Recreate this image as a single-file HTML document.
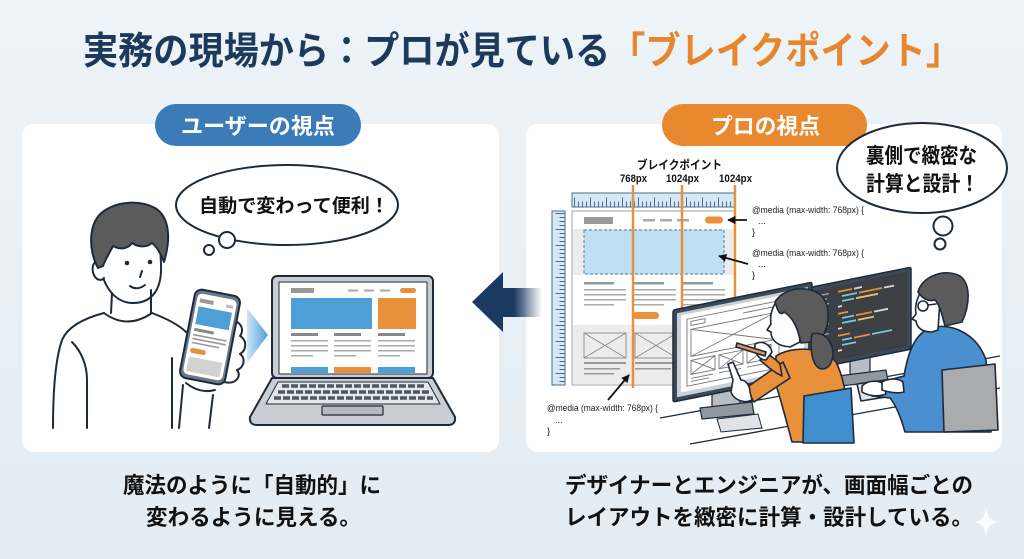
<!DOCTYPE html>
<html><head><meta charset="utf-8">
<style>
html,body{margin:0;padding:0;width:1024px;height:559px;overflow:hidden;background:#e8f0f6;}
svg{display:block;}
text{font-family:"Liberation Sans","Noto Sans CJK JP",sans-serif;}
</style></head>
<body>
<svg width="1024" height="559" viewBox="0 0 1024 559" xmlns="http://www.w3.org/2000/svg">
<defs>
 <linearGradient id="bg" x1="0" y1="0" x2="0" y2="1"><stop offset="0" stop-color="#edf4f9"/><stop offset="1" stop-color="#e3ecf3"/></linearGradient>
 <linearGradient id="arr" x1="0" x2="1"><stop offset="0" stop-color="#1b3a62"/><stop offset="0.3" stop-color="#1b3a62"/><stop offset="1" stop-color="#1b3a62" stop-opacity="0"/></linearGradient>
 <linearGradient id="chev" x1="0" x2="1"><stop offset="0" stop-color="#cfe6f6"/><stop offset="1" stop-color="#4a9fd8"/></linearGradient>
 <marker id="ah" viewBox="0 0 10 10" refX="9" refY="5" markerWidth="4.5" markerHeight="4.5" orient="auto"><path d="M0,0 L10,5 L0,10 z" fill="#111"/></marker>
</defs>
<rect width="1024" height="559" fill="url(#bg)"/>

<!-- Title -->
<text x="83" y="64" font-size="38" font-weight="700" fill="#1d3a5c" textLength="878" lengthAdjust="spacingAndGlyphs">実務の現場から：プロが見ている<tspan fill="#e8862e">「ブレイクポイント」</tspan></text>

<!-- Panels -->
<rect x="22" y="124" width="477" height="328" rx="12" fill="#ffffff"/>
<rect x="526" y="124" width="476" height="328" rx="12" fill="#ffffff"/>

<!-- Pills -->
<rect x="155" y="104" width="206" height="42" rx="21" fill="#3a7bb8"/>
<text x="181" y="134" font-size="22" font-weight="700" fill="#fff" textLength="154" lengthAdjust="spacingAndGlyphs">ユーザーの視点</text>
<rect x="662" y="104" width="205" height="42" rx="21" fill="#e8892f"/>
<text x="711" y="134" font-size="22" font-weight="700" fill="#fff" textLength="109" lengthAdjust="spacingAndGlyphs">プロの視点</text>

<!-- ===== LEFT ILLUSTRATION ===== -->
<g stroke="#1e2a3a" stroke-width="2" stroke-linejoin="round" stroke-linecap="round">
 <ellipse cx="287" cy="205" rx="111" ry="40" fill="#fff"/>
 <circle cx="227" cy="240" r="8" fill="#fff"/>
 <circle cx="209" cy="250" r="5" fill="#fff"/>
</g>
<text x="199" y="212" font-size="19" font-weight="700" fill="#111" textLength="190" lengthAdjust="spacingAndGlyphs">自動で変わって便利！</text>

<!-- person -->
<g stroke="#1e2a3a" stroke-width="2" stroke-linejoin="round" stroke-linecap="round" fill="none">
 <path d="M100,250 C98,280 112,303 133,303 C153,303 162,288 161,265 L160,240 C140,236 115,238 100,250 Z" fill="#fff"/>
 <path d="M101,262 C92,258 90,272 96,278 C99,281 103,280 104,278" fill="#fff"/>
 <path d="M98,268 C88,250 88,222 104,211 C118,201 140,200 155,208 C168,216 172,235 164,262 C160,252 156,246 152,243 C146,248 138,247 132,243 C128,249 120,250 113,246 C110,252 106,258 103,266 Z" fill="#5b5b5b"/>
 <path d="M130,286 Q137,291 145,285"/>
 <path d="M142,271 L140,277"/>
 <path d="M112,293 L111,313"/><path d="M151,290 L151,313"/>
 <path d="M104,313 Q127,330 152,313"/>
 <path d="M104,313 C85,318 68,326 62,340 C55,360 53,395 53,428"/>
 <path d="M152,313 C165,318 178,324 186,332"/>
 <path d="M72,342 C82,352 87,366 87,380 L87,428"/>
 <path d="M172,358 L172,428"/>
 <path d="M183,385 L179,428"/><path d="M213,395 L209,428"/>
 <path d="M186,383 Q200,394 215,390"/>
 <path d="M228,322 C238,318 246,328 240,336 C247,340 247,350 240,354 C246,358 244,368 237,370 C242,376 236,385 224,382 Z" fill="#fff"/>
</g>
<circle cx="127" cy="263" r="2.3" fill="#1e2a3a"/>
<circle cx="150" cy="262" r="2.3" fill="#1e2a3a"/>
<!-- phone -->
<g transform="rotate(11 210 337)">
 <rect x="187" y="292" width="46" height="90" rx="7" fill="#6b7a8a" stroke="#1e2a3a" stroke-width="2"/>
 <rect x="190" y="296" width="40" height="82" rx="5" fill="#fff"/>
 <rect x="193" y="301" width="14" height="4" fill="#9a9a9a"/>
 <rect x="220" y="302" width="7" height="3" fill="#bbb"/>
 <rect x="193" y="309" width="34" height="18" fill="#4e9fd6"/>
 <rect x="193" y="331" width="20" height="3" fill="#888"/>
 <rect x="193" y="337" width="34" height="1.6" fill="#999"/>
 <rect x="193" y="341" width="34" height="1.6" fill="#999"/>
 <rect x="193" y="345" width="28" height="1.6" fill="#999"/>
 <rect x="193" y="351" width="16" height="5" rx="2.5" fill="#e8913a"/>
 <rect x="193" y="360" width="34" height="15" fill="#d2d2d2"/>
</g>
<!-- chevron -->
<path d="M247,308 L268,335 L247,363 Z" fill="url(#chev)"/>

<!-- laptop -->
<g stroke="#1e2a3a" stroke-linejoin="round">
 <rect x="272" y="276" width="161" height="102" rx="5" fill="#c9ced4" stroke-width="2"/>
 <rect x="279" y="282" width="148" height="92" fill="#fff" stroke-width="1"/>
 <path d="M272,378 L433,378 L455,417 Q456,425 448,425 L257,425 Q249,425 250,417 Z" fill="#c9ced4" stroke-width="2"/>
 <path d="M278,382 L428,382 L440,404 L266,404 Z" fill="#e4e7ea" stroke-width="1"/>
 <rect x="322" y="406" width="61" height="9" rx="1" fill="#b5bac0" stroke-width="1.2"/>
</g>
<line x1="282" y1="386" x2="424" y2="386" stroke="#4d5864" stroke-width="3.5" stroke-dasharray="7 2"/>
<line x1="278" y1="392" x2="429" y2="392" stroke="#4d5864" stroke-width="3.5" stroke-dasharray="7 2"/>
<line x1="274" y1="398" x2="433" y2="398" stroke="#4d5864" stroke-width="3.5" stroke-dasharray="7 2"/>
<rect x="291" y="288" width="23" height="5" fill="#999"/>
<rect x="348" y="289.5" width="10" height="2" fill="#aaa"/>
<rect x="364" y="289.5" width="10" height="2" fill="#aaa"/>
<rect x="380" y="289.5" width="10" height="2" fill="#aaa"/>
<rect x="400" y="288" width="16" height="5" rx="2.5" fill="#e8913a"/>
<rect x="291" y="298" width="81" height="31" fill="#4e9fd6"/>
<rect x="378" y="298" width="38" height="31" fill="#e8913a"/>
<g fill="#888">
 <rect x="291" y="333" width="27" height="3"/><rect x="334" y="333" width="27" height="3"/><rect x="378" y="333" width="27" height="3"/>
</g>
<g fill="#aaa">
 <rect x="291" y="340" width="37" height="1.5"/><rect x="291" y="345" width="37" height="1.5"/><rect x="291" y="350" width="37" height="1.5"/><rect x="291" y="355" width="22" height="1.5"/>
 <rect x="334" y="340" width="37" height="1.5"/><rect x="334" y="345" width="37" height="1.5"/><rect x="334" y="350" width="37" height="1.5"/><rect x="334" y="355" width="22" height="1.5"/>
 <rect x="378" y="340" width="37" height="1.5"/><rect x="378" y="345" width="37" height="1.5"/><rect x="378" y="350" width="37" height="1.5"/><rect x="378" y="355" width="22" height="1.5"/>
</g>
<rect x="291" y="367" width="37" height="6" fill="#4e9fd6"/>
<rect x="334" y="367" width="37" height="6" fill="#e8913a"/>
<rect x="378" y="367" width="37" height="6" fill="#4e9fd6"/>

<!-- big arrow -->
<path d="M472,302 L503,272 L503,332 Z" fill="#1b3a62"/>
<rect x="502" y="288" width="40" height="29" fill="url(#arr)"/>

<!-- ===== RIGHT ILLUSTRATION ===== -->
<text x="637" y="169" font-size="12" font-weight="700" fill="#111" textLength="85" lengthAdjust="spacingAndGlyphs">ブレイクポイント</text>
<text x="620" y="182" font-size="11" font-weight="700" fill="#111" textLength="27" lengthAdjust="spacingAndGlyphs">768px</text>
<text x="666" y="182" font-size="11" font-weight="700" fill="#111" textLength="33" lengthAdjust="spacingAndGlyphs">1024px</text>
<text x="719" y="182" font-size="11" font-weight="700" fill="#111" textLength="33" lengthAdjust="spacingAndGlyphs">1024px</text>

<!-- rulers -->
<rect x="572" y="193" width="163" height="14" fill="#d6e8f5" stroke="#4a6b8a" stroke-width="1"/>
<line x1="574" y1="204" x2="734" y2="204" stroke="#4a6b8a" stroke-width="5" stroke-dasharray="1 3"/>
<line x1="574" y1="202" x2="734" y2="202" stroke="#4a6b8a" stroke-width="9" stroke-dasharray="1 15"/>
<rect x="552" y="211" width="13" height="174" fill="#d6e8f5" stroke="#4a6b8a" stroke-width="1"/>
<line x1="562" y1="213" x2="562" y2="384" stroke="#4a6b8a" stroke-width="5" stroke-dasharray="1 3"/>
<line x1="560" y1="213" x2="560" y2="384" stroke="#4a6b8a" stroke-width="9" stroke-dasharray="1 15"/>

<!-- wireframe page -->
<rect x="572" y="211" width="163" height="174" fill="#fff" stroke="#9aa3ab" stroke-width="1"/>
<rect x="584" y="217" width="29" height="7" fill="#999"/>
<rect x="643" y="219" width="12" height="2.5" fill="#aaa"/>
<rect x="660" y="219" width="12" height="2.5" fill="#aaa"/>
<rect x="677" y="219" width="12" height="2.5" fill="#aaa"/>
<rect x="705" y="216.5" width="18" height="7" rx="3.5" fill="#e8913a"/>
<rect x="573" y="229" width="161" height="46" fill="#ececec"/>
<rect x="584" y="230" width="140" height="44" fill="#bfe0f3" stroke="#4f7ea6" stroke-width="1" stroke-dasharray="3 2"/>
<g fill="#999">
 <rect x="584" y="282" width="30" height="2.5"/><rect x="634" y="282" width="30" height="2.5"/><rect x="683" y="282" width="30" height="2.5"/>
</g>
<g fill="#aaa">
 <rect x="584" y="289" width="42" height="1.5"/><rect x="584" y="294" width="42" height="1.5"/><rect x="584" y="299" width="42" height="1.5"/><rect x="584" y="304" width="30" height="1.5"/>
 <rect x="634" y="289" width="42" height="1.5"/><rect x="634" y="294" width="42" height="1.5"/><rect x="634" y="299" width="42" height="1.5"/><rect x="634" y="304" width="30" height="1.5"/>
 <rect x="683" y="289" width="42" height="1.5"/><rect x="683" y="294" width="42" height="1.5"/><rect x="683" y="299" width="42" height="1.5"/><rect x="683" y="304" width="30" height="1.5"/>
</g>
<rect x="633" y="312" width="26" height="7" rx="3.5" fill="#e8913a"/>
<rect x="573" y="325" width="161" height="59" fill="#ececec"/>
<g fill="none" stroke="#8a8a8a" stroke-width="0.9">
 <rect x="584" y="333" width="42" height="25"/><path d="M584,333 L626,358 M626,333 L584,358"/>
 <rect x="635" y="333" width="42" height="25"/><path d="M635,333 L677,358 M677,333 L635,358"/>
 <rect x="685" y="333" width="40" height="25"/><path d="M685,333 L725,358 M725,333 L685,358"/>
</g>
<g fill="#999">
 <rect x="584" y="362" width="42" height="2"/><rect x="584" y="368" width="36" height="1.5"/><rect x="584" y="373" width="30" height="1.5"/>
 <rect x="635" y="362" width="42" height="2"/><rect x="635" y="368" width="36" height="1.5"/>
</g>

<!-- breakpoint lines -->
<g stroke="#e8913a" stroke-width="2.5">
 <line x1="633" y1="185" x2="633" y2="388"/>
 <line x1="682" y1="185" x2="682" y2="390"/>
 <line x1="735" y1="185" x2="735" y2="390"/>
</g>

<!-- code labels -->
<g font-size="9.5" fill="#222">
 <text x="752" y="213" textLength="112" lengthAdjust="spacingAndGlyphs">@media (max-width: 768px) {</text>
 <text x="758" y="224">...</text>
 <text x="752" y="235">}</text>
 <text x="752" y="256" textLength="112" lengthAdjust="spacingAndGlyphs">@media (max-width: 768px) {</text>
 <text x="758" y="267">...</text>
 <text x="752" y="278">}</text>
 <text x="547" y="411" textLength="111" lengthAdjust="spacingAndGlyphs">@media (max-width: 768px) {</text>
 <text x="555" y="423">...</text>
 <text x="547" y="434">}</text>
</g>
<g stroke="#111" stroke-width="1.8" marker-end="url(#ah)">
 <line x1="747" y1="220" x2="728" y2="220"/>
 <line x1="748" y1="264" x2="719" y2="256"/>
 <line x1="608" y1="400" x2="629" y2="375"/>
</g>

<!-- right thought bubble -->
<g stroke="#1e2a3a" stroke-width="2">
 <ellipse cx="922" cy="168" rx="85" ry="45" fill="#fff"/>
 <circle cx="943" cy="226" r="9.5" fill="#fff"/>
 <circle cx="940" cy="244" r="5.5" fill="#fff"/>
</g>
<text x="866" y="163" font-size="21" font-weight="700" fill="#111" textLength="111" lengthAdjust="spacingAndGlyphs">裏側で緻密な</text>
<text x="866" y="191" font-size="21" font-weight="700" fill="#111" textLength="113" lengthAdjust="spacingAndGlyphs">計算と設計！</text>

<!-- desk lines -->
<g stroke="#1e2a3a" stroke-width="1.3" fill="none">
 <path d="M660,418 L1000,356"/>
 <path d="M690,444 L1000,388"/>
</g>

<!-- code monitor -->
<rect x="850" y="355" width="20" height="22" fill="#b8bec4" stroke="#1e2a3a" stroke-width="1.2"/>
<path d="M838,376 L886,370 L888,381 L840,386 Z" fill="#8f979f" stroke="#1e2a3a" stroke-width="1.2"/>
<g transform="matrix(1,-0.2,0,1,812,287)">
 <rect x="0" y="0" width="99" height="82" rx="2" fill="#3b4a5a" stroke="#1e2a3a" stroke-width="1.5"/>
 <rect x="4" y="4" width="91" height="74" fill="#3c3f44"/>
 <g stroke="#9aa4ae" stroke-width="1.4">
  <line x1="8" y1="10" x2="17" y2="10"/><line x1="8" y1="15" x2="15" y2="15"/><line x1="8" y1="20" x2="17" y2="20"/><line x1="8" y1="25" x2="14" y2="25"/><line x1="8" y1="30" x2="17" y2="30"/><line x1="8" y1="35" x2="15" y2="35"/><line x1="8" y1="40" x2="17" y2="40"/><line x1="8" y1="45" x2="13" y2="45"/><line x1="8" y1="50" x2="17" y2="50"/><line x1="8" y1="55" x2="15" y2="55"/><line x1="8" y1="60" x2="17" y2="60"/><line x1="8" y1="65" x2="14" y2="65"/><line x1="8" y1="70" x2="16" y2="70"/>
 </g>
 <g stroke-width="1.8">
  <line x1="26" y1="10" x2="40" y2="10" stroke="#e8913a"/><line x1="42" y1="10" x2="50" y2="10" stroke="#ddd"/>
  <line x1="30" y1="15" x2="45" y2="15" stroke="#7ec8e3"/><line x1="47" y1="15" x2="70" y2="15" stroke="#e8913a"/><line x1="72" y1="15" x2="82" y2="15" stroke="#ddd"/>
  <line x1="30" y1="20" x2="42" y2="20" stroke="#7ec8e3"/><line x1="44" y1="20" x2="66" y2="20" stroke="#f0c36a"/>
  <line x1="26" y1="25" x2="30" y2="25" stroke="#ddd"/>
  <line x1="26" y1="32" x2="36" y2="32" stroke="#e8913a"/>
  <line x1="30" y1="37" x2="42" y2="37" stroke="#7ec8e3"/><line x1="44" y1="37" x2="60" y2="37" stroke="#e8913a"/><line x1="62" y1="37" x2="76" y2="37" stroke="#ddd"/>
  <line x1="30" y1="42" x2="44" y2="42" stroke="#7ec8e3"/><line x1="46" y1="42" x2="62" y2="42" stroke="#f0c36a"/>
  <line x1="26" y1="47" x2="30" y2="47" stroke="#ddd"/>
  <line x1="26" y1="54" x2="38" y2="54" stroke="#e8913a"/>
  <line x1="30" y1="59" x2="40" y2="59" stroke="#7ec8e3"/><line x1="42" y1="59" x2="58" y2="59" stroke="#e8913a"/><line x1="60" y1="59" x2="80" y2="59" stroke="#7ec8e3"/>
  <line x1="30" y1="64" x2="44" y2="64" stroke="#7ec8e3"/>
  <line x1="26" y1="69" x2="30" y2="69" stroke="#ddd"/>
 </g>
</g>

<!-- left monitor (woman) -->
<rect x="712" y="388" width="28" height="22" fill="#b8bec4" stroke="#1e2a3a" stroke-width="1.2"/>
<path d="M700,408 L752,402 L754,414 L702,419 Z" fill="#8f979f" stroke="#1e2a3a" stroke-width="1.2"/>
<path d="M717,419 L758,414 L762,428 L721,432 Z" fill="#dfe3e7" stroke="#1e2a3a" stroke-width="1"/>
<g transform="matrix(1,-0.2,0,1,673,310)">
 <rect x="0" y="0" width="139" height="92" rx="2" fill="#3b4a5a" stroke="#1e2a3a" stroke-width="1.5"/>
 <rect x="4" y="4" width="131" height="84" fill="#c9d0d6"/>
 <rect x="8" y="7" width="123" height="77" fill="#fff"/>
 <g fill="none" stroke="#777" stroke-width="0.9">
  <rect x="14" y="12" width="92" height="67"/>
  <rect x="18" y="15" width="14" height="4"/>
  <line x1="70" y1="17" x2="100" y2="17"/>
  <rect x="18" y="23" width="84" height="27"/><path d="M18,23 L102,50 M102,23 L18,50"/>
  <rect x="18" y="54" width="24" height="14"/><path d="M18,54 L42,68 M42,54 L18,68"/>
  <rect x="46" y="54" width="24" height="14"/><path d="M46,54 L70,68 M70,54 L46,68"/>
  <rect x="74" y="54" width="24" height="14"/><path d="M74,54 L98,68 M98,54 L74,68"/>
  <line x1="18" y1="72" x2="40" y2="72"/><line x1="18" y1="75" x2="36" y2="75"/><line x1="46" y1="72" x2="68" y2="72"/><line x1="74" y1="72" x2="96" y2="72"/>
 </g>
</g>

<!-- woman -->
<g stroke="#1e2a3a" stroke-width="1.6" stroke-linejoin="round" stroke-linecap="round">
 <path d="M776,356 C792,346 822,346 836,362 C846,382 849,410 849,442 L792,442 C786,420 781,400 776,385 Z" fill="#e8913a"/>
 <path d="M783,362 L746,388 L754,402 L790,378 Z" fill="#e8913a"/>
 <path d="M780,364 C775,358 770,356 765,352 L760,360 C767,366 773,372 782,376 Z" fill="#e8913a"/>
 <path d="M728,364 L733,362 L741,380 C746,380 750,386 750,392 L752,400 C744,404 734,400 731,392 L733,380 Z" fill="#fff"/>
 <path d="M755,344 C762,340 770,344 772,352 L766,360 C760,360 754,354 755,344 Z" fill="#fff"/>
 <path d="M737,343 L766,352 L765,356 L736,347 Z" fill="#d9935a"/>
 <path d="M776,302 C771,310 770,318 771,324 L767,330 L771,332 C771,340 777,346 790,347 L800,342 L796,310 Z" fill="#fff"/>
 <path d="M775,302 C784,286 814,284 824,299 C831,311 829,330 819,341 L801,343 C798,330 794,318 784,312 C780,316 778,312 775,302 Z" fill="#5b5b5b"/>
 <path d="M812,334 C826,330 836,346 832,360 C829,370 820,372 815,364 C811,356 810,344 812,334 Z" fill="#5b5b5b"/>
 <path d="M804,396 L851,388 L854,443 L803,443 Z" fill="#3f8fcf"/>
</g>

<!-- man -->
<g stroke="#1e2a3a" stroke-width="1.6" stroke-linejoin="round" stroke-linecap="round">
 <path d="M857,384 L900,378 L904,394 L861,401 Z" fill="#dfe3e7"/>
 <path d="M930,328 C952,322 977,334 986,360 L991,432 L905,432 C901,418 896,405 890,398 L872,396 L870,385 L904,376 C908,352 915,334 930,328 Z" fill="#4a8fd0"/>
 <path d="M862,386 C868,380 878,380 884,384 L886,394 C878,397 868,396 862,392 Z" fill="#fff"/>
 <path d="M882,382 C888,378 898,378 903,382 L904,392 C896,394 888,392 882,390 Z" fill="#fff"/>
 <path d="M921,292 C916,300 915,308 916,314 L912,319 L916,321 C917,328 922,332 932,332 L938,330 L940,300 Z" fill="#fff"/>
 <path d="M918,292 C922,276 945,268 960,276 C971,284 970,305 962,322 L945,326 C942,315 940,305 935,300 C928,302 922,298 918,292 Z" fill="#5b5b5b"/>
 <circle cx="923" cy="306" r="5" fill="none"/>
 <line x1="928" y1="305" x2="936" y2="304"/>
 <path d="M942,370 L995,364 L998,430 L944,432 Z" fill="#a9abad"/>
</g>

<!-- Bottom captions -->
<g font-size="22" font-weight="700" fill="#111">
 <text x="123" y="493" textLength="258" lengthAdjust="spacingAndGlyphs">魔法のように「自動的」に</text>
 <text x="146" y="525" textLength="215" lengthAdjust="spacingAndGlyphs">変わるように見える。</text>
 <text x="565" y="493" textLength="408" lengthAdjust="spacingAndGlyphs">デザイナーとエンジニアが、画面幅ごとの</text>
 <text x="565" y="525" textLength="408" lengthAdjust="spacingAndGlyphs">レイアウトを緻密に計算・設計している。</text>
</g>

<!-- sparkle -->
<path d="M986,508 C988,518 990,520 998,522 C990,524 988,526 986,536 C984,526 982,524 974,522 C982,520 984,518 986,508 Z" fill="#ffffff" opacity="0.85"/>
</svg>
</body></html>
